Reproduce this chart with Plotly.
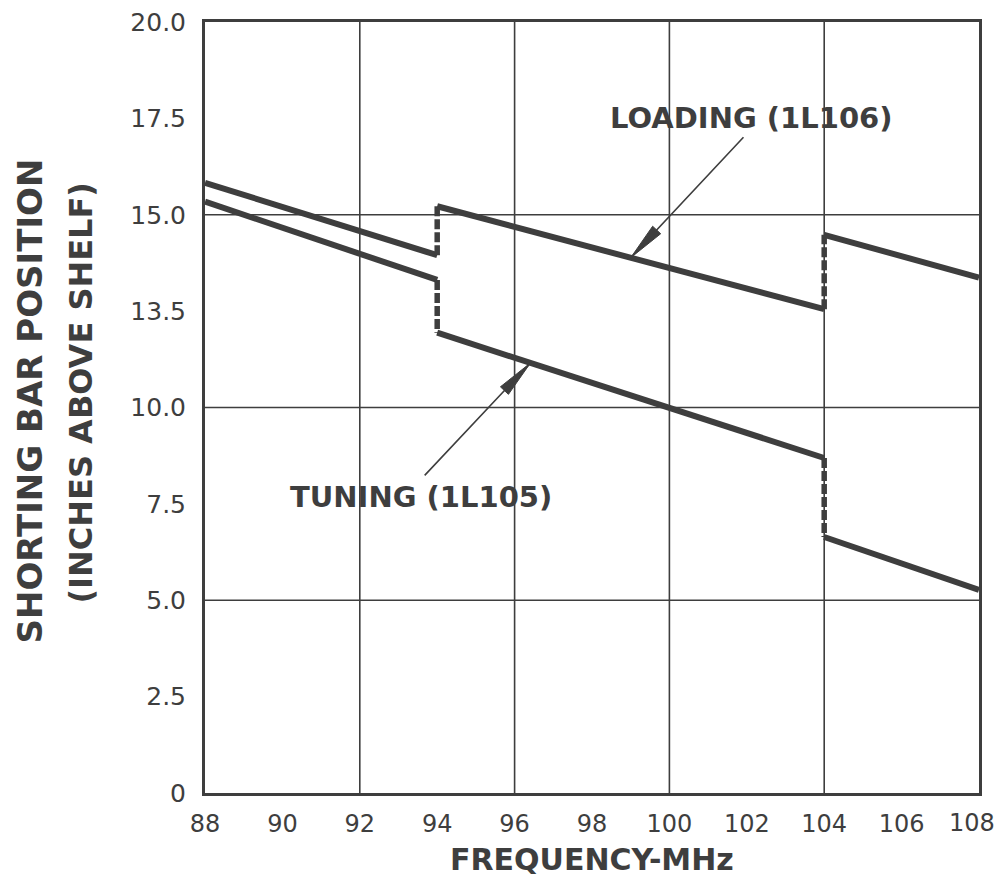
import numpy as np
import plotly.graph_objects as go

# ---- data ----
segment_freq = [88, 94, 104, 108]          # MHz, segment boundaries
loading_start = [15.83, 15.22, 14.48]      # value at start of each segment
loading_end = [13.95, 12.55, 13.37]        # value at end of each segment
tuning_start = [15.34, 11.94, 6.64]
tuning_end = [13.31, 8.69, 5.27]

x_tickvals = [88, 90, 92, 94, 96, 98, 100, 102, 104, 106, 108]
x_ticktext = ["88", "90", "92", "94", "96", "98", "100", "102", "104", "106", "108"]
y_tickvals = [0, 2.5, 5.0, 7.5, 10.0, 12.5, 15.0, 17.5, 20.0]
y_ticktext = ["0", "2.5", "5.0", "7.5", "10.0", "13.5", "15.0", "17.5", "20.0"]
x_grid = [92, 96, 100, 104]
y_grid = [5, 10, 15]

loading_label = "LOADING (1L106)"
tuning_label = "TUNING (1L105)"

INK = "#3e3e3e"
W, H = 989, 868
ML, MR, MT, MB = 197, 18, 14, 83
XR, YR = (88, 108), (0, 20)
pxx = (W - ML - MR) / (XR[1] - XR[0])
pxy = (H - MT - MB) / (YR[1] - YR[0])
TICKFONT = dict(family="DejaVu Sans", size=24, color=INK)


def solid(start, end):
    xs, ys = [], []
    for i in range(len(start)):
        xs += [segment_freq[i], segment_freq[i + 1], None]
        ys += [start[i], end[i], None]
    return xs, ys


def jumps(start, end):
    xs, ys = [], []
    for i in range(len(start) - 1):
        xs += [segment_freq[i + 1], segment_freq[i + 1], None]
        ys += [end[i], start[i + 1], None]
    return xs, ys


def on_line(start, end, x):
    for i in range(len(start)):
        if segment_freq[i] <= x <= segment_freq[i + 1]:
            return float(np.interp(x, [segment_freq[i], segment_freq[i + 1]], [start[i], end[i]]))
    return None


fig = go.Figure()
for st, en in [(loading_start, loading_end), (tuning_start, tuning_end)]:
    xs, ys = solid(st, en)
    fig.add_trace(go.Scatter(x=xs, y=ys, mode="lines",
                             line=dict(color=INK, width=6), hoverinfo="skip", showlegend=False))
    xs, ys = jumps(st, en)
    fig.add_trace(go.Scatter(x=xs, y=ys, mode="lines",
                             line=dict(color=INK, width=5.5, dash="10px,3px"), hoverinfo="skip",
                             showlegend=False))

# pointer lines with wedge heads
pointers = [
    # label text, label pos, line tail, tip x on curve, series
    (loading_label, (102.11, 17.52), (101.95, 17.05), 99.0, loading_start, loading_end),
    (tuning_label, (93.59, 7.68), (93.64, 8.20), 96.41, tuning_start, tuning_end),
]
shapes = []
for text, (lx, ly), (tx, ty), tipx, st, en in pointers:
    tipy = on_line(st, en, tipx)
    fig.add_annotation(x=lx, y=ly, text=f"<b>{text}</b>", showarrow=False,
                       font=dict(family="DejaVu Sans", size=29, color=INK))
    fig.add_annotation(x=tipx, y=tipy, ax=tx, ay=ty, axref="x", ayref="y", xref="x", yref="y",
                       text="", showarrow=True, arrowhead=0, arrowwidth=1.6, arrowcolor=INK)
    # wedge in pixel space
    dx, dy = (tx - tipx) * pxx, (ty - tipy) * pxy
    n = np.hypot(dx, dy)
    ux, uy = dx / n, dy / n
    L, B = 38, 11
    bx, by = ux * L, uy * L
    px_, py_ = -uy * B / 2, ux * B / 2
    p1 = (tipx + (bx + px_) / pxx, tipy + (by + py_) / pxy)
    p2 = (tipx + (bx - px_) / pxx, tipy + (by - py_) / pxy)
    shapes.append(dict(type="path", xref="x", yref="y",
                       path=f"M {tipx},{tipy} L {p1[0]},{p1[1]} L {p2[0]},{p2[1]} Z",
                       fillcolor=INK, line=dict(color=INK, width=1)))

for gx in x_grid:
    shapes.append(dict(type="line", xref="x", yref="y", x0=gx, x1=gx, y0=YR[0], y1=YR[1],
                       line=dict(color=INK, width=1.6), layer="below"))
for gy in y_grid:
    shapes.append(dict(type="line", xref="x", yref="y", x0=XR[0], x1=XR[1], y0=gy, y1=gy,
                       line=dict(color=INK, width=1.6), layer="below"))

# last x tick label kept inside the page (right-anchored at the axis end)
fig.add_annotation(x=x_tickvals[-1], y=YR[0], xref="x", yref="y", xanchor="right",
                   yanchor="top", xshift=18, yshift=-14, text=x_ticktext[-1],
                   showarrow=False, font=TICKFONT)

# axis titles
fig.add_annotation(xref="paper", yref="paper", x=0.5, y=0, yshift=-66, xanchor="center",
                   yanchor="middle", text="<b>FREQUENCY-MHz</b>", showarrow=False,
                   font=dict(family="DejaVu Sans", size=30, color=INK))
fig.add_annotation(xref="paper", yref="paper", x=0, y=0.5, xshift=-176, yshift=6,
                   xanchor="center", yanchor="middle", textangle=-90,
                   text="<b>SHORTING BAR POSITION</b>", showarrow=False,
                   font=dict(family="DejaVu Sans", size=34, color=INK))
fig.add_annotation(xref="paper", yref="paper", x=0, y=0.5, xshift=-125, yshift=14,
                   xanchor="center", yanchor="middle", textangle=-90,
                   text="<b>(INCHES ABOVE SHELF)</b>", showarrow=False,
                   font=dict(family="DejaVu Sans", size=32, color=INK))

fig.update_layout(
    width=W, height=H, margin=dict(l=ML, r=MR, t=MT, b=MB, autoexpand=False),
    paper_bgcolor="white", plot_bgcolor="white",
    shapes=shapes, showlegend=False,
    xaxis=dict(range=list(XR), tickvals=x_tickvals[:-1], ticktext=x_ticktext[:-1],
               showgrid=False, zeroline=False, showline=True, mirror=True, linewidth=3,
               linecolor=INK, ticks="outside", ticklen=7, tickcolor="rgba(0,0,0,0)",
               ticklabeloverflow="allow", automargin=False, tickfont=TICKFONT),
    yaxis=dict(range=list(YR), tickvals=y_tickvals, ticktext=y_ticktext, showgrid=False,
               zeroline=False, showline=True, mirror=True, linewidth=3, linecolor=INK,
               ticks="outside", ticklen=11, tickcolor="rgba(0,0,0,0)",
               ticklabeloverflow="allow", automargin=False,
               tickfont=dict(family="DejaVu Sans", size=25, color=INK)),
)

fig.write_html("out.html")
